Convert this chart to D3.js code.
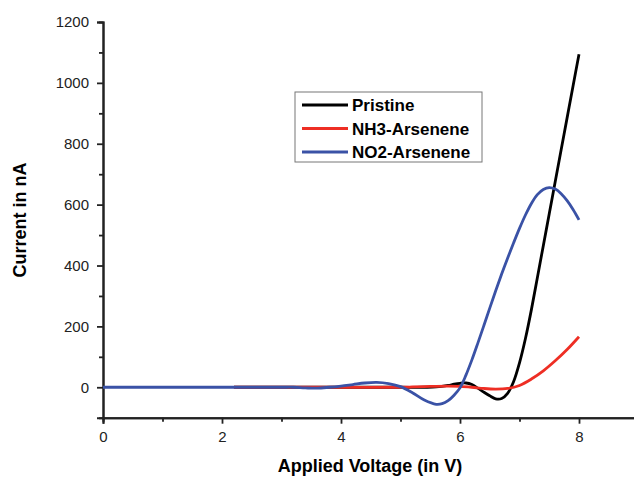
<!DOCTYPE html>
<html>
<head>
<meta charset="utf-8">
<script src="https://d3js.org/d3.v7.min.js"></script>
<style>
    body { margin: 0; background: #fff; }
    text { font-family: "Liberation Sans", Arial, sans-serif; }
</style>
</head>
<body>
<div id="chart"></div>
<script>

// x values (V) and current (nA)
let pristineX = [2.2, 3, 4, 5, 5.4, 5.6, 5.8, 5.9, 6.0, 6.1, 6.2, 6.3, 6.4, 6.5, 6.6, 6.7, 6.8, 6.9, 7.0, 7.1, 7.2, 7.3, 7.4, 7.5, 7.6, 7.7, 7.8, 7.9, 8.0]
let pristineY = [0, 0, 0, 0, 0, 1, 6, 10, 13, 14, 9, -3, -16, -28, -38, -37, -20, 18, 80, 160, 255, 360, 465, 570, 675, 780, 885, 990, 1094]

let nh3X = [2.2, 3, 4, 5, 5.2, 5.5, 5.8, 6.0, 6.2, 6.4, 6.6, 6.8, 7.0, 7.2, 7.4, 7.6, 7.8, 8.0]
let nh3Y = [0, 0, 0, 0, 1, 3, 4, 3, 0, -4, -6, -4, 6, 27, 54, 87, 124, 166]

let no2X = [0, 1, 2, 3, 3.2, 3.4, 3.6, 3.8, 4.0, 4.2, 4.4, 4.6, 4.8, 5.0, 5.2, 5.4, 5.6, 5.7, 5.8, 5.9, 6.0, 6.1, 6.2, 6.3, 6.4, 6.5, 6.6, 6.7, 6.8, 6.9, 7.0, 7.1, 7.2, 7.3, 7.4, 7.5, 7.6, 7.7, 7.8, 7.9, 8.0]
let no2Y = [0, 0, 0, 0, 0, -2, -3, 0, 4, 9, 14, 16, 12, 2, -18, -42, -56, -54, -44, -26, -2, 40, 90, 145, 202, 260, 317, 372, 424, 474, 522, 566, 604, 633, 650, 656, 651, 636, 613, 584, 550]

let seriesNames = ['Pristine', 'NH3-Arsenene', 'NO2-Arsenene']
let seriesColors = ['#000000', '#ee2e24', '#3a52a6']

let xMajor = [0, 2, 4, 6, 8]
let xMinor = [1, 3, 5, 7, 9]
let yMajor = [0, 200, 400, 600, 800, 1000, 1200]
let yMinor = [100, 300, 500, 700, 900, 1100]

let width = 634,
    height = 478

let svg = d3.select('#chart').append('svg')
    .attr('width', width)
    .attr('height', height)

let xScale = d3.scaleLinear().domain([0, 9]).range([103, 638.5])
let yScale = d3.scaleLinear().domain([-100, 1200]).range([417.7, 22])

let series = [
    {name: seriesNames[0], color: seriesColors[0], data: pristineX.map(function(x, i){ return {x: x, y: pristineY[i]} })},
    {name: seriesNames[1], color: seriesColors[1], data: nh3X.map(function(x, i){ return {x: x, y: nh3Y[i]} })},
    {name: seriesNames[2], color: seriesColors[2], data: no2X.map(function(x, i){ return {x: x, y: no2Y[i]} })}
]

let line = d3.line()
    .curve(d3.curveCatmullRom.alpha(0.5))
    .x(function(d){ return xScale(d.x) })
    .y(function(d){ return yScale(d.y) })

// axes
svg.append('g')
    .attr('transform', 'translate(0,' + yScale(-100) + ')')
    .call(d3.axisBottom(xScale).tickValues(xMajor).tickSize(6).tickPadding(8).tickFormat(d3.format('d')))

svg.append('g')
    .attr('transform', 'translate(0,' + yScale(-100) + ')')
    .call(d3.axisBottom(xScale).tickValues(xMinor).tickSize(4).tickFormat(''))

svg.append('g')
    .attr('transform', 'translate(' + xScale(0) + ',0)')
    .call(d3.axisLeft(yScale).tickValues(yMajor).tickSize(6).tickPadding(8).tickFormat(d3.format('d')))

svg.append('g')
    .attr('transform', 'translate(' + xScale(0) + ',0)')
    .call(d3.axisLeft(yScale).tickValues(yMinor).tickSize(4).tickFormat(''))

svg.selectAll('.domain')
    .attr('stroke', '#222')
    .attr('stroke-width', 2)
svg.selectAll('.tick line')
    .attr('stroke', '#222')
    .attr('stroke-width', 1.8)
svg.selectAll('.tick text')
    .attr('font-size', 15)
    .attr('font-family', '"Liberation Sans", Arial, sans-serif')
    .attr('fill', '#222')

// curves
series.forEach(function(s){
    svg.append('path')
        .datum(s.data)
        .attr('fill', 'none')
        .attr('stroke', s.color)
        .attr('stroke-width', 2.8)
        .attr('d', line)
})

// axis titles
svg.append('text')
    .attr('x', 370)
    .attr('y', 472)
    .attr('text-anchor', 'middle')
    .attr('font-size', 18)
    .attr('font-weight', 'bold')
    .text('Applied Voltage (in V)')

svg.append('text')
    .attr('transform', 'translate(26,220) rotate(-90)')
    .attr('text-anchor', 'middle')
    .attr('font-size', 18)
    .attr('font-weight', 'bold')
    .text('Current in nA')

// legend
let legend = svg.append('g')
    .attr('transform', 'translate(295,92)')

legend.append('rect')
    .attr('x', 0)
    .attr('y', 0)
    .attr('width', 187)
    .attr('height', 70)
    .attr('fill', '#fff')
    .attr('stroke', '#777')
    .attr('stroke-width', 1)

series.forEach(function(s, i){
    let row = legend.append('g')
        .attr('transform', 'translate(0,' + (13 + i * 23.5) + ')')
    row.append('line')
        .attr('x1', 7)
        .attr('x2', 53)
        .attr('y1', 0)
        .attr('y2', 0)
        .attr('stroke', s.color)
        .attr('stroke-width', 3)
    row.append('text')
        .attr('x', 57)
        .attr('y', 6)
        .attr('font-size', 17)
        .attr('font-weight', 'bold')
        .text(s.name)
})

</script>
</body>
</html>
